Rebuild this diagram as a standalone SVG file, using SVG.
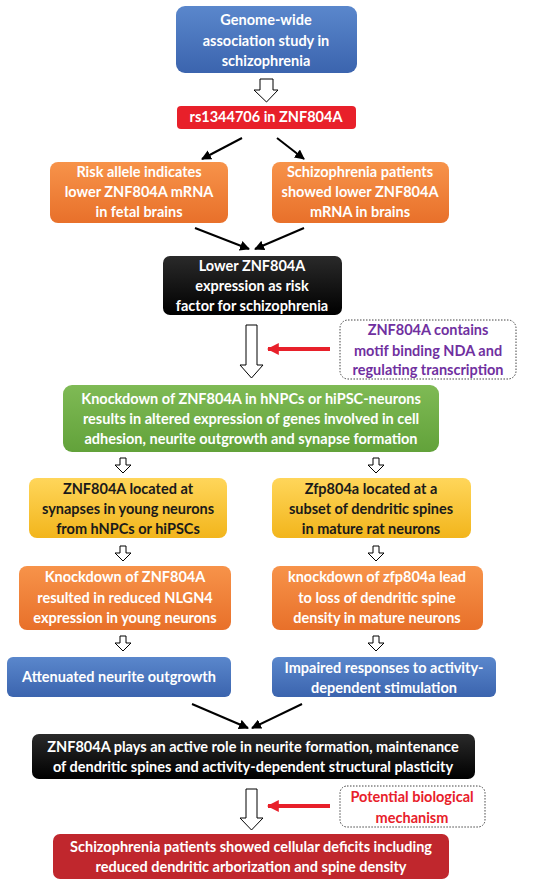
<svg xmlns="http://www.w3.org/2000/svg" width="554" height="883" viewBox="0 0 554 883">
<defs>
<linearGradient id="gBlue" x1="0" y1="0" x2="0" y2="1"><stop offset="0" stop-color="#5A87CC"/><stop offset="1" stop-color="#3B64AE"/></linearGradient>
<linearGradient id="gOrange" x1="0" y1="0" x2="0" y2="1"><stop offset="0" stop-color="#F7934A"/><stop offset="1" stop-color="#E8702A"/></linearGradient>
<linearGradient id="gYellow" x1="0" y1="0" x2="0" y2="1"><stop offset="0" stop-color="#FFD65A"/><stop offset="1" stop-color="#F2B51C"/></linearGradient>
<linearGradient id="gGreen" x1="0" y1="0" x2="0" y2="1"><stop offset="0" stop-color="#7FBA55"/><stop offset="1" stop-color="#62A23A"/></linearGradient>
<linearGradient id="gBlack" x1="0" y1="0" x2="0" y2="1"><stop offset="0" stop-color="#2A2A2A"/><stop offset="1" stop-color="#000000"/></linearGradient>
<marker id="ah" viewBox="0 0 10 10" refX="9" refY="5" markerWidth="5" markerHeight="5" orient="auto"><path d="M0,0 L10,5 L0,10 z" fill="#000"/></marker>
<marker id="rh" viewBox="0 0 10 10" refX="9" refY="5" markerWidth="3" markerHeight="3" orient="auto"><path d="M0,0 L10,5 L0,10 z" fill="#E8202A"/></marker>
<path id="smallArrow" d="M-3,0 L3,0 L3,7 L8,7 L0,15 L-8,7 L-3,7 z"/>
</defs>
<style>
text{font-family:Lato,"Liberation Sans",sans-serif;font-weight:bold;font-size:14.5px;text-anchor:middle}
.w{fill:#fff}
.d{fill:#1a1a1a}
.p{fill:#7030A0}
.r{fill:#E8202A}
.blk{fill:#fff;stroke:#000;stroke-width:1}
.conn{stroke:#000;stroke-width:2;fill:none;marker-end:url(#ah)}
.red{stroke:#E8202A;stroke-width:4;fill:none;marker-end:url(#rh)}
.dot{fill:#fff;stroke:#444;stroke-width:1;stroke-dasharray:1.5 1.5}
</style>
<rect width="554" height="883" fill="#fff"/>

<g id="connectors">
<path class="blk" d="M260,79 L273,79 L273,90 L278,90 L266.5,102 L254,90 L260,90 z"/>
<line class="conn" x1="242" y1="138" x2="202" y2="159"/>
<line class="conn" x1="277" y1="138" x2="304" y2="159"/>
<line class="conn" x1="195" y1="228" x2="249" y2="249"/>
<line class="conn" x1="304" y1="228" x2="255" y2="249"/>
<path class="blk" d="M246,325 L257,325 L257,365 L263,365 L251.5,378 L240,365 L246,365 z"/>
<line class="red" x1="330" y1="349" x2="268" y2="349"/>
<use href="#smallArrow" class="blk" x="123" y="458"/>
<use href="#smallArrow" class="blk" x="376" y="458"/>
<use href="#smallArrow" class="blk" x="123" y="546"/>
<use href="#smallArrow" class="blk" x="376" y="546"/>
<use href="#smallArrow" class="blk" x="123" y="636"/>
<use href="#smallArrow" class="blk" x="376" y="636"/>
<line class="conn" x1="192" y1="704" x2="248" y2="728"/>
<line class="conn" x1="302" y1="704" x2="252" y2="728"/>
<path class="blk" d="M246,789 L257,789 L257,818 L263,818 L251.5,830 L240,818 L246,818 z"/>
<line class="red" x1="330" y1="806" x2="268" y2="806"/>
</g>

<g id="n1"><rect x="176" y="6" width="181" height="67" rx="9" fill="url(#gBlue)"/>
<text class="w" x="266" y="25">Genome-wide</text><text class="w" x="266" y="46">association study in</text><text class="w" x="266" y="66">schizophrenia</text></g>

<g id="n2"><rect x="177" y="106" width="179" height="23" rx="4" fill="#E8202A"/>
<text class="w" x="266" y="122">rs1344706 in ZNF804A</text></g>

<g id="n3"><rect x="50" y="162" width="178" height="61" rx="8" fill="url(#gOrange)"/>
<text class="w" x="139" y="177">Risk allele indicates</text><text class="w" x="139" y="197">lower ZNF804A mRNA</text><text class="w" x="139" y="217">in fetal brains</text></g>

<g id="n4"><rect x="272" y="162" width="177" height="61" rx="8" fill="url(#gOrange)"/>
<text class="w" x="360" y="177">Schizophrenia patients</text><text class="w" x="360" y="197">showed lower ZNF804A</text><text class="w" x="360" y="217">mRNA in brains</text></g>

<g id="n5"><rect x="163" y="256" width="179" height="59" rx="7" fill="url(#gBlack)"/>
<text class="w" x="252" y="271">Lower ZNF804A</text><text class="w" x="252" y="291">expression as risk</text><text class="w" x="252" y="311">factor for schizophrenia</text></g>

<g id="n6"><rect class="dot" x="340" y="320" width="176" height="59" rx="8"/>
<text class="p" x="428" y="335">ZNF804A contains</text><text class="p" x="428" y="356">motif binding NDA and</text><text class="p" x="428" y="375">regulating transcription</text></g>

<g id="n7"><rect x="63" y="385" width="376" height="67" rx="9" fill="url(#gGreen)"/>
<text class="w" x="251" y="404">Knockdown of ZNF804A in hNPCs or hiPSC-neurons</text><text class="w" x="251" y="424">results in altered expression of genes involved in cell</text><text class="w" x="251" y="444">adhesion, neurite outgrowth and synapse formation</text></g>

<g id="n8"><rect x="29" y="478" width="198" height="60" rx="8" fill="url(#gYellow)"/>
<text class="d" x="128" y="494">ZNF804A located at</text><text class="d" x="128" y="514">synapses in young neurons</text><text class="d" x="128" y="534">from hNPCs or hiPSCs</text></g>

<g id="n9"><rect x="272" y="478" width="199" height="60" rx="8" fill="url(#gYellow)"/>
<text class="d" x="371" y="494">Zfp804a located at a</text><text class="d" x="371" y="514">subset of dendritic spines</text><text class="d" x="371" y="534">in mature rat neurons</text></g>

<g id="n10"><rect x="19" y="566" width="212" height="64" rx="8" fill="url(#gOrange)"/>
<text class="w" x="125" y="582">Knockdown of ZNF804A</text><text class="w" x="125" y="603">resulted in reduced NLGN4</text><text class="w" x="125" y="623">expression in young neurons</text></g>

<g id="n11"><rect x="272" y="566" width="211" height="64" rx="8" fill="url(#gOrange)"/>
<text class="w" x="377" y="582">knockdown of zfp804a lead</text><text class="w" x="377" y="603">to loss of dendritic spine</text><text class="w" x="377" y="623">density in mature neurons</text></g>

<g id="n12"><rect x="7" y="657" width="224" height="40" rx="6" fill="url(#gBlue)"/>
<text class="w" x="119" y="682">Attenuated neurite outgrowth</text></g>

<g id="n13"><rect x="272" y="657" width="224" height="40" rx="6" fill="url(#gBlue)"/>
<text class="w" x="384" y="673">Impaired responses to activity-</text><text class="w" x="384" y="693">dependent stimulation</text></g>

<g id="n14"><rect x="32" y="734" width="443" height="45" rx="7" fill="url(#gBlack)"/>
<text class="w" x="253" y="752">ZNF804A plays an active role in neurite formation, maintenance</text><text class="w" x="253" y="772">of dendritic spines and activity-dependent structural plasticity</text></g>

<g id="n15"><rect class="dot" x="340" y="786" width="145" height="41" rx="7"/>
<text class="r" x="412" y="802">Potential biological</text><text class="r" x="412" y="823">mechanism</text></g>

<g id="n16"><rect x="53" y="834" width="396" height="45" rx="7" fill="#C0272D"/>
<text class="w" x="251" y="852">Schizophrenia patients showed cellular deficits including</text><text class="w" x="251" y="872">reduced dendritic arborization and spine density</text></g>
</svg>
